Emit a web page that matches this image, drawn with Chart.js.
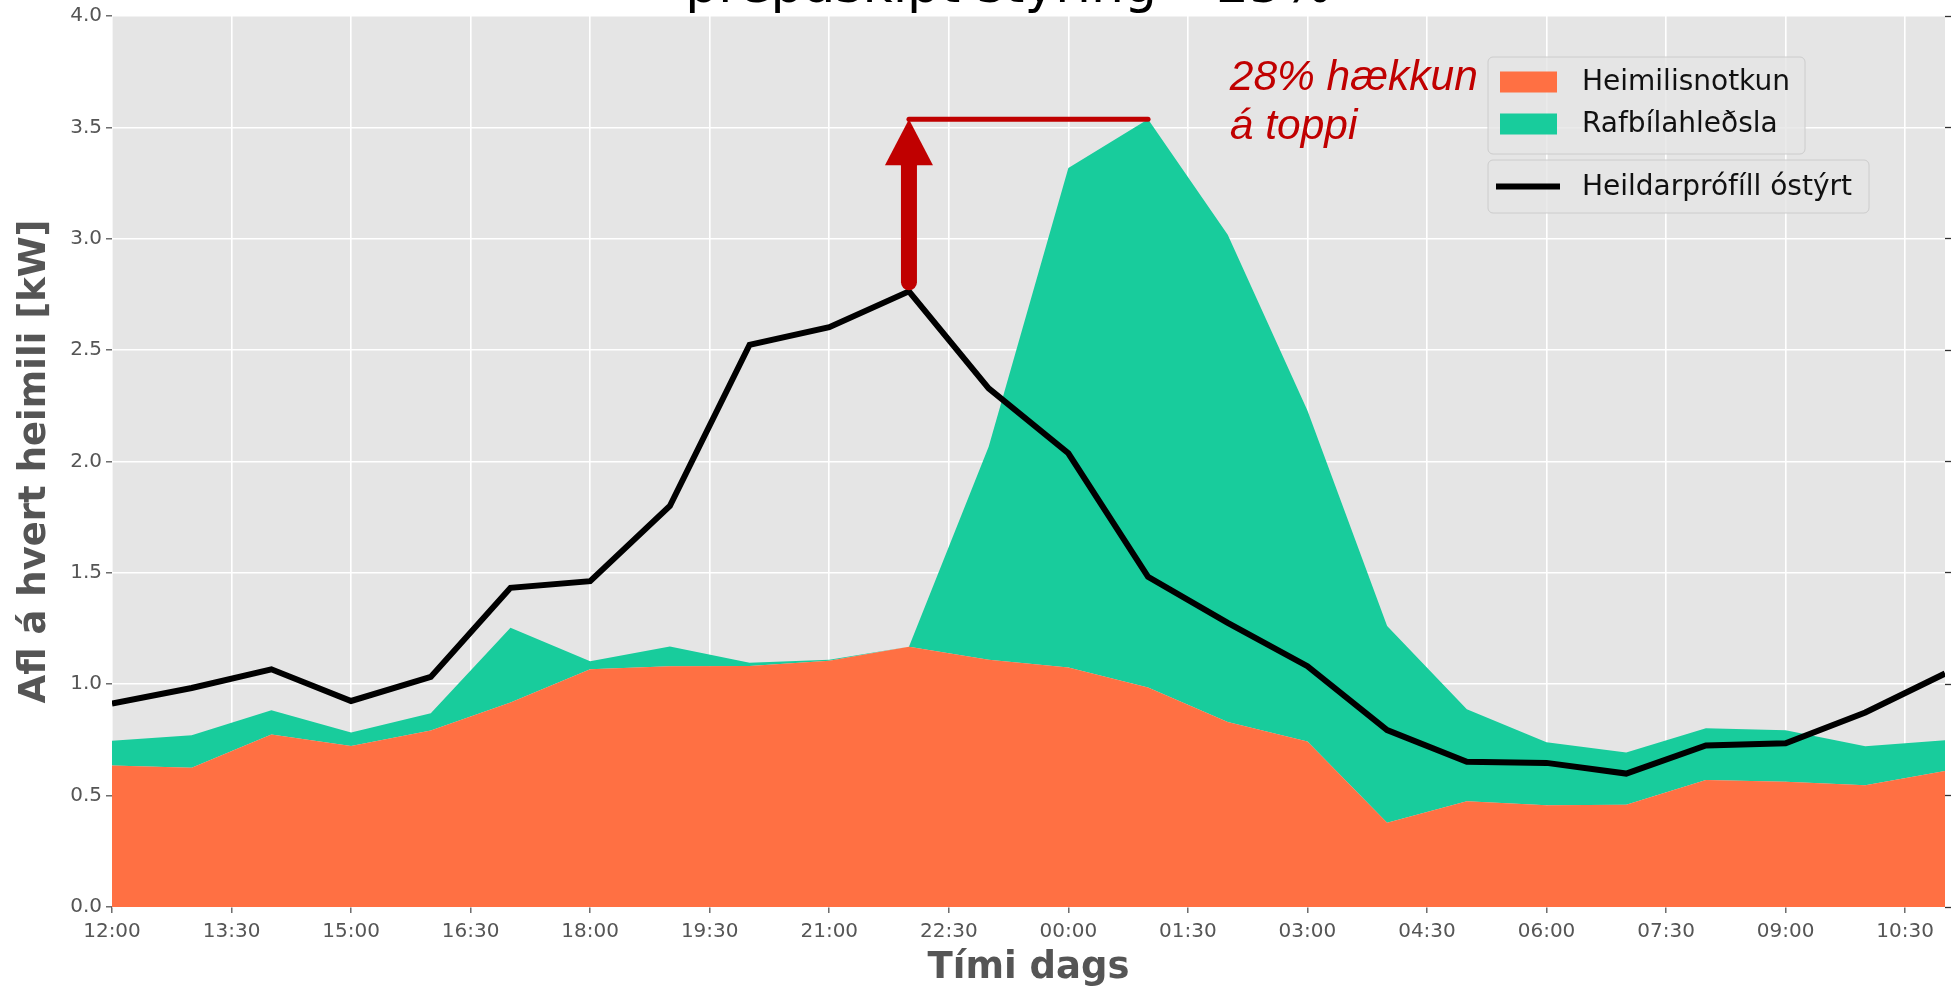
<!DOCTYPE html>
<html>
<head>
<meta charset="utf-8">
<script src="https://cdn.jsdelivr.net/npm/chart.js@4.4.1/dist/chart.umd.min.js"></script>
<style>
    html, body { margin: 0; padding: 0; background: #fff; }
    #wrap { width: 1957px; height: 987px; }
</style>
</head>
<body>
<div id="wrap"><canvas id="chart" width="1957" height="987"></canvas></div>
<script>
// ── DATA ─────────────────────────────────────────────

var times = ['12:00', '13:00', '14:00', '15:00', '16:00', '17:00', '18:00', '19:00',
             '20:00', '21:00', '22:00', '23:00', '00:00', '01:00', '02:00', '03:00',
             '04:00', '05:00', '06:00', '07:00', '08:00', '09:00', '10:00', '11:00'];

// Heimilisnotkun [kW]
var household = [0.635, 0.625, 0.774, 0.723, 0.792, 0.918, 1.067, 1.081,
                 1.082, 1.105, 1.168, 1.110, 1.075, 0.985, 0.830, 0.743,
                 0.378, 0.475, 0.457, 0.459, 0.570, 0.562, 0.547, 0.611];

// Rafbílahleðsla [kW], stacked on top of household
var evCharging = [0.111, 0.146, 0.109, 0.060, 0.078, 0.336, 0.036, 0.088,
                  0.014, 0.005, 0.000, 0.956, 2.243, 2.551, 2.188, 1.486,
                  0.884, 0.413, 0.283, 0.235, 0.233, 0.232, 0.175, 0.138];

// Heildarprófíll óstýrt [kW]
var totalUnsteered = [0.913, 0.983, 1.067, 0.925, 1.033, 1.433, 1.463, 1.800,
                      2.524, 2.603, 2.764, 2.328, 2.037, 1.482, 1.276, 1.081,
                      0.794, 0.652, 0.647, 0.599, 0.725, 0.735, 0.873, 1.048];

var xTickLabels = ['12:00', '13:30', '15:00', '16:30', '18:00', '19:30', '21:00', '22:30',
                   '00:00', '01:30', '03:00', '04:30', '06:00', '07:30', '09:00', '10:30'];

var yTicks = [0.0, 0.5, 1.0, 1.5, 2.0, 2.5, 3.0, 3.5, 4.0];

var titleText   = 'þrepaskipt stýring – 25%';
var annotLines  = ['28% hækkun', 'á toppi'];
var annotAt     = { time: '02:00', y: 3.67 };

// ── COLOURS ──────────────────────────────────────────

var ORANGE = '#FF7043';
var GREEN  = '#18CC9C';
var RED    = '#C00000';
var GREY   = '#555555';

// ── HELPERS ──────────────────────────────────────────

// hours since 12:00 (x axis runs noon to noon)
function toHour(t) {
    var parts = t.split(':');
    var h = parseInt(parts[0], 10);
    var m = parseInt(parts[1], 10);
    return ((h - 12 + 24) % 24) + m / 60;
}

function indexOfMax(arr) {
    var best = 0;
    for (var i = 1; i < arr.length; i++) {
        if (arr[i] > arr[best]) best = i;
    }
    return best;
}

function points(values) {
    var out = [];
    for (var i = 0; i < values.length; i++) {
        out.push({ x: toHour(times[i]), y: values[i] });
    }
    return out;
}

// ── PLUGINS ──────────────────────────────────────────

var plotBackground = {
    id: 'plotBackground',
    beforeDraw: function(chart) {
        var a = chart.chartArea;
        var ctx = chart.ctx;
        ctx.save();
        ctx.fillStyle = '#E5E5E5';
        ctx.fillRect(a.left, a.top, a.right - a.left, a.bottom - a.top);
        ctx.restore();
    }
};

var peakArrow = {
    id: 'peakArrow',
    afterDatasetsDraw: function(chart) {
        var ctx = chart.ctx;
        var xs = chart.scales.x;
        var ys = chart.scales.y;

        var stackTop = [];
        for (var i = 0; i < household.length; i++) stackTop.push(household[i] + evCharging[i]);

        var iBlack = indexOfMax(totalUnsteered);
        var iPeak  = indexOfMax(stackTop);

        var x0     = xs.getPixelForValue(toHour(times[iBlack]));
        var x1     = xs.getPixelForValue(toHour(times[iPeak]));
        var yStart = ys.getPixelForValue(totalUnsteered[iBlack]);
        var yTip   = ys.getPixelForValue(stackTop[iPeak]);

        var headW = 48, headH = 46;

        ctx.save();
        ctx.strokeStyle = RED;
        ctx.fillStyle = RED;
        ctx.lineCap = 'round';

        // horizontal line to the new peak
        ctx.lineWidth = 5;
        ctx.beginPath();
        ctx.moveTo(x0, yTip);
        ctx.lineTo(x1, yTip);
        ctx.stroke();

        // arrow shaft
        ctx.lineWidth = 16;
        ctx.beginPath();
        ctx.moveTo(x0, yStart - 9);
        ctx.lineTo(x0, yTip + headH);
        ctx.stroke();

        // arrow head
        ctx.beginPath();
        ctx.moveTo(x0 - headW / 2, yTip + headH);
        ctx.lineTo(x0 + headW / 2, yTip + headH);
        ctx.lineTo(x0, yTip);
        ctx.closePath();
        ctx.fill();

        // annotation text
        ctx.font = 'italic 42.5px "Liberation Sans", Arial, sans-serif';
        ctx.textAlign = 'left';
        ctx.textBaseline = 'alphabetic';
        var tx = xs.getPixelForValue(toHour(annotAt.time)) + 2;
        var ty = ys.getPixelForValue(annotAt.y);
        for (var j = 0; j < annotLines.length; j++) {
            ctx.fillText(annotLines[j], tx, ty + j * 49);
        }
        ctx.restore();
    }
};

var boxLegend = {
    id: 'boxLegend',
    afterDraw: function(chart) {
        var ctx = chart.ctx;
        var a = chart.chartArea;
        var ds = chart.data.datasets;

        var left = a.right - 457;
        var groups = [
            { top: a.top + 41,  w: 317, h: 97, items: [ds[1], ds[2]] },
            { top: a.top + 144, w: 381, h: 53, items: [ds[0]] }
        ];

        ctx.save();
        ctx.font = '28px "DejaVu Sans", sans-serif';
        ctx.textBaseline = 'middle';
        ctx.textAlign = 'left';

        for (var g = 0; g < groups.length; g++) {
            var grp = groups[g];
            ctx.beginPath();
            ctx.roundRect(left, grp.top, grp.w, grp.h, 5);
            ctx.fillStyle = 'rgba(229,229,229,0.8)';
            ctx.fill();
            ctx.lineWidth = 1;
            ctx.strokeStyle = '#CCCCCC';
            ctx.stroke();

            for (var k = 0; k < grp.items.length; k++) {
                var d = grp.items[k];
                var cy = grp.top + 25 + k * 42;
                if (grp.items.length === 1) cy = grp.top + grp.h / 2;
                if (d.fill) {
                    ctx.fillStyle = d.backgroundColor;
                    ctx.fillRect(left + 12, cy - 10.5, 57, 21);
                } else {
                    ctx.strokeStyle = d.borderColor;
                    ctx.lineWidth = 6;
                    ctx.lineCap = 'butt';
                    ctx.beginPath();
                    ctx.moveTo(left + 8, cy);
                    ctx.lineTo(left + 72, cy);
                    ctx.stroke();
                }
                ctx.fillStyle = '#111111';
                ctx.fillText(d.label, left + 94, cy + 1);
            }
        }
        ctx.restore();
    }
};

var cutTitle = {
    id: 'cutTitle',
    afterDraw: function(chart) {
        var ctx = chart.ctx;
        var a = chart.chartArea;
        ctx.save();
        ctx.font = '52px "DejaVu Sans", sans-serif';
        ctx.fillStyle = '#000000';
        ctx.textAlign = 'center';
        ctx.textBaseline = 'alphabetic';
        ctx.fillText(titleText, (a.left + a.right) / 2 - 20, 2);
        ctx.restore();
    }
};

// ── CHART ────────────────────────────────────────────

var tickFont = { family: '"DejaVu Sans", sans-serif', size: 20 };
var axisTitleFont = { family: '"DejaVu Sans", sans-serif', size: 37, weight: 'bold', lineHeight: 1 };

var ctx = document.getElementById('chart').getContext('2d');

var chart = new Chart(ctx, {
    type: 'line',
    data: {
        datasets: [
            {
                label: 'Heildarprófíll óstýrt',
                data: points(totalUnsteered),
                stack: 'total',
                borderColor: '#000000',
                borderWidth: 6,
                pointRadius: 0,
                fill: false,
                tension: 0
            },
            {
                label: 'Heimilisnotkun',
                data: points(household),
                stack: 'load',
                borderColor: ORANGE,
                backgroundColor: ORANGE,
                borderWidth: 0,
                pointRadius: 0,
                fill: 'origin',
                tension: 0
            },
            {
                label: 'Rafbílahleðsla',
                data: points(evCharging),
                stack: 'load',
                borderColor: GREEN,
                backgroundColor: GREEN,
                borderWidth: 0,
                pointRadius: 0,
                fill: '-1',
                tension: 0
            }
        ]
    },
    options: {
        responsive: false,
        animation: false,
        devicePixelRatio: 1,
        layout: { padding: { top: 15, right: 0, left: 0, bottom: 0 } },
        plugins: {
            legend: { display: false },
            tooltip: { enabled: false },
            title: { display: false }
        },
        scales: {
            x: {
                type: 'linear',
                min: toHour(times[0]),
                max: toHour(times[times.length - 1]),
                border: { display: false },
                grid: { color: '#FFFFFF', lineWidth: 1.6, tickColor: GREY, tickLength: 6, tickWidth: 1.3 },
                ticks: {
                    font: tickFont,
                    color: GREY,
                    padding: 7,
                    maxRotation: 0,
                    autoSkip: false,
                    callback: function(v) {
                        for (var i = 0; i < xTickLabels.length; i++) {
                            if (Math.abs(toHour(xTickLabels[i]) - v) < 1e-6) return xTickLabels[i];
                        }
                        return '';
                    }
                },
                afterBuildTicks: function(scale) {
                    scale.ticks = xTickLabels.map(function(l) { return { value: toHour(l) }; });
                },
                afterFit: function(scale) { scale.height = 80; },
                title: {
                    display: true,
                    text: 'Tími dags',
                    color: GREY,
                    font: axisTitleFont,
                    padding: { top: 0, bottom: 0 }
                }
            },
            y: {
                stacked: true,
                min: yTicks[0],
                max: yTicks[yTicks.length - 1],
                border: { display: false },
                grid: { color: '#FFFFFF', lineWidth: 1.6, tickColor: GREY, tickLength: 6, tickWidth: 1.3 },
                ticks: {
                    font: tickFont,
                    color: GREY,
                    padding: 4,
                    callback: function(v) { return v.toFixed(1); }
                },
                afterBuildTicks: function(scale) {
                    scale.ticks = yTicks.map(function(v) { return { value: v }; });
                },
                afterFit: function(scale) { scale.width = 112; },
                title: {
                    display: true,
                    text: 'Afl á hvert heimili [kW]',
                    color: GREY,
                    font: axisTitleFont,
                    padding: { top: 17, bottom: 0 }
                }
            },
            y2: {
                position: 'right',
                min: yTicks[0],
                max: yTicks[yTicks.length - 1],
                border: { display: false },
                grid: { drawOnChartArea: false, tickColor: '#333333', tickLength: 6, tickWidth: 1.3 },
                ticks: { display: false },
                afterBuildTicks: function(scale) {
                    scale.ticks = yTicks.map(function(v) { return { value: v }; });
                },
                afterFit: function(scale) { scale.width = 12; }
            }
        }
    },
    plugins: [plotBackground, peakArrow, boxLegend, cutTitle]
});
</script>
</body>
</html>
